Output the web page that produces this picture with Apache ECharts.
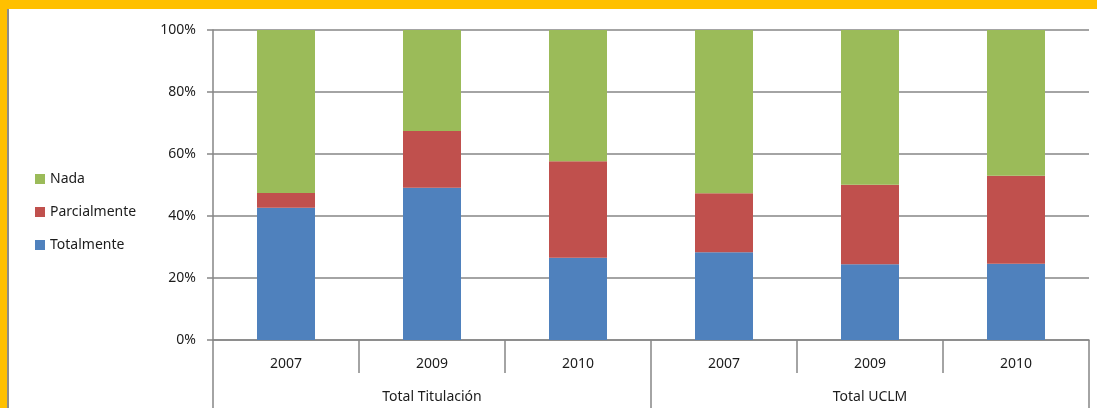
<!DOCTYPE html>
<html>
<head>
<meta charset="utf-8">
<script src="https://cdn.jsdelivr.net/npm/echarts@6/dist/echarts.min.js"></script>
<style>
  html, body { margin: 0; padding: 0; background: #fff; }
  #wrap { position: relative; width: 1097px; height: 408px; overflow: hidden; background: #fff; }
  #chart { position: absolute; left: 0; top: 0; width: 1097px; height: 408px; }
  .yt { position: absolute; left: 0; top: 0; width: 1097px; height: 9px; background: #FFC000; }
  .yl { position: absolute; left: 0; top: 0; width: 7px; height: 408px; background: #FFC000; }
  .gl { position: absolute; left: 7px; top: 9px; width: 2px; height: 399px; background: #8c8c8c; }
</style>
</head>
<body>
<div id="wrap">
  <div id="chart"></div>
  <div class="yt"></div>
  <div class="yl"></div>
  <div class="gl"></div>
</div>
<script>
const years = ['2007', '2009', '2010', '2007', '2009', '2010'];
const groups = ['Total Titulación', 'Total UCLM'];
const yTicks = [0, 20, 40, 60, 80, 100];
const totalmente = [42.7, 49.1, 26.5, 28.3, 24.4, 24.6];
const parcialmente = [4.7, 18.3, 31.2, 19.0, 25.7, 28.4];
const nada = [52.6, 32.6, 42.3, 52.7, 49.9, 47.0];

const gray = '#868686';
const txt = '#1c1c1c';
const font = 'Noto Sans';

const chart = echarts.init(document.getElementById('chart'), null, { renderer: 'canvas' });
chart.setOption({
  animation: false,
  textStyle: { fontFamily: font },
  grid: { left: 213, right: 8, top: 30, bottom: 68, containLabel: false },
  legend: {
    orient: 'vertical',
    left: 30,
    top: 167,
    itemWidth: 10,
    itemHeight: 10,
    itemGap: 19,
    icon: 'rect',
    textStyle: { fontFamily: font, fontSize: 14, color: txt, padding: [0, 0, 0, 0] },
    data: ['Nada', 'Parcialmente', 'Totalmente']
  },
  xAxis: [
    {
      type: 'category',
      data: years,
      position: 'bottom',
      axisLine: { show: true, lineStyle: { color: gray, width: 1.5 } },
      axisTick: { show: true, length: 33, interval: 0, lineStyle: { color: gray, width: 1.5 } },
      axisLabel: { interval: 0, margin: 17, fontSize: 14, color: txt, fontFamily: font },
      splitLine: { show: false }
    },
    {
      type: 'category',
      data: groups,
      position: 'bottom',
      axisLine: { show: false },
      axisTick: { show: true, length: 68, interval: 0, lineStyle: { color: gray, width: 1.5 } },
      axisLabel: { interval: 0, margin: 50, fontSize: 14, color: txt, fontFamily: font },
      splitLine: { show: false }
    }
  ],
  yAxis: {
    type: 'value',
    min: yTicks[0],
    max: yTicks[yTicks.length - 1],
    interval: 20,
    axisLine: { show: true, lineStyle: { color: gray, width: 1.5 } },
    axisTick: { show: true, length: 6, lineStyle: { color: gray, width: 1.5 } },
    axisLabel: { formatter: '{value}%', margin: 17, fontSize: 14, color: txt, fontFamily: font },
    splitLine: { show: true, lineStyle: { color: gray, width: 1.5 } }
  },
  series: [
    { name: 'Totalmente', type: 'bar', stack: 's', xAxisIndex: 0, barWidth: 58, data: totalmente,
      itemStyle: { color: '#4F81BD' } },
    { name: 'Parcialmente', type: 'bar', stack: 's', xAxisIndex: 0, barWidth: 58, data: parcialmente,
      itemStyle: { color: '#C0504D' } },
    { name: 'Nada', type: 'bar', stack: 's', xAxisIndex: 0, barWidth: 58, data: nada,
      itemStyle: { color: '#9BBB59' } }
  ]
});
</script>
</body>
</html>
